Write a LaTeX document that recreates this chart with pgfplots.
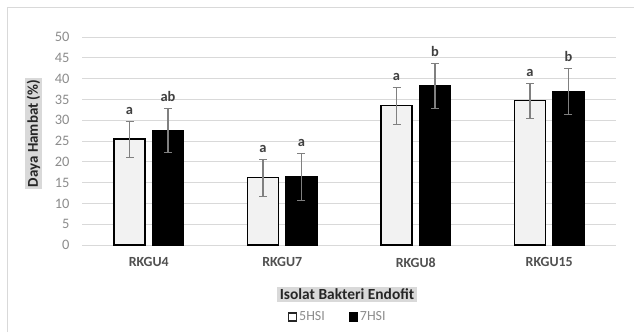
\documentclass[border=0pt]{standalone}
\usepackage{pgfplots}
\pgfplotsset{compat=1.18}
\usepackage{fontspec}
\setmainfont{Carlito}
\definecolor{gridc}{HTML}{D9D9D9}
\definecolor{tickc}{HTML}{8C8C8C}
\definecolor{labc}{HTML}{505050}
\definecolor{boxc}{HTML}{D9D9D9}
\definecolor{lightbar}{HTML}{F2F2F2}
\definecolor{errc}{HTML}{808080}
\begin{document}
\begin{tikzpicture}[x=1bp,y=1bp]
\path[use as bounding box] (0,0) rectangle (634,332);
\draw[gridc, line width=1bp] (7,0) -- (7,324) -- (634,324);
\begin{axis}[
  at={(82bp,87bp)}, anchor=south west,
  scale only axis, width=534bp, height=208bp,
  xmin=-0.5, xmax=3.5, ymin=0, ymax=50,
  xtick={0,1,2,3}, xticklabels={RKGU4,RKGU7,RKGU8,RKGU15},
  ytick={0,5,...,50},
  ymajorgrids, grid style={gridc, line width=0.9bp},
  axis line style={draw=none},
  major tick length=0pt,
  xticklabel style={font=\fontsize{14}{14}\selectfont\bfseries, text=labc, yshift=-9bp},
  yticklabel style={font=\fontsize{14.5}{14.5}\selectfont, text=tickc, xshift=-9bp},
  /pgf/number format/assume math mode=true,
  legend style={at={(0.479,-0.346)}, anchor=center, draw=none, fill=none,
    legend columns=2, font=\fontsize{14}{14}\selectfont, text=tickc,
    /tikz/every even column/.append style={column sep=22bp},
    /tikz/every odd column/.append style={column sep=0bp}},
]
\addplot[ybar, bar width=0.232, bar shift=0pt, fill=lightbar, draw=black, line width=1.3bp,
  legend image code/.code={\draw[draw=black!85, fill=white, line width=1.3bp] (0bp,-4bp) rectangle (8bp,4bp);},
  error bars/.cd, y dir=both, y explicit,
  error bar style={errc, line width=1.2bp, mark size=4bp}]
  coordinates {(-0.144,25.5) +- (0,4.3) (0.856,16.2) +- (0,4.4) (1.856,33.5) +- (0,4.4) (2.856,34.7) +- (0,4.3)};
\addplot[ybar, bar width=0.232, bar shift=0pt, fill=black, draw=black, line width=1.3bp,
  legend image code/.code={\draw[draw=black, fill=black, line width=1.1bp] (0bp,-4bp) rectangle (8bp,4bp);},
  error bars/.cd, y dir=both, y explicit,
  error bar style={errc, line width=1.2bp, mark size=4bp}]
  coordinates {(0.144,27.5) +- (0,5.3) (1.144,16.4) +- (0,5.6) (2.144,38.3) +- (0,5.3) (3.144,36.9) +- (0,5.5)};
\addplot[only marks, mark=none, forget plot,
  nodes near coords, point meta=explicit symbolic,
  nodes near coords style={font=\fontsize{14.5}{14.5}\selectfont\bfseries, text=black!75, anchor=south, yshift=3bp}]
  coordinates {(-0.144,29.8)[a] (0.856,20.6)[a] (1.856,37.9)[a] (2.856,39.0)[a]
               (0.144,32.8)[ab] (1.144,22.0)[a] (2.144,43.6)[b] (3.144,42.4)[b]};
\legend{5HSI, 7HSI}
\end{axis}
\node[rotate=90, fill=boxc, font=\bfseries\fontsize{15}{15}\selectfont, text=black!85, inner sep=2bp] at (33.5,198.5) {Daya Hambat (\%)};
\node[fill=boxc, font=\bfseries\fontsize{15.5}{15.5}\selectfont, text=black!85, inner sep=2.5bp] at (347,37.5) {Isolat Bakteri Endofit};
\end{tikzpicture}
\end{document}
